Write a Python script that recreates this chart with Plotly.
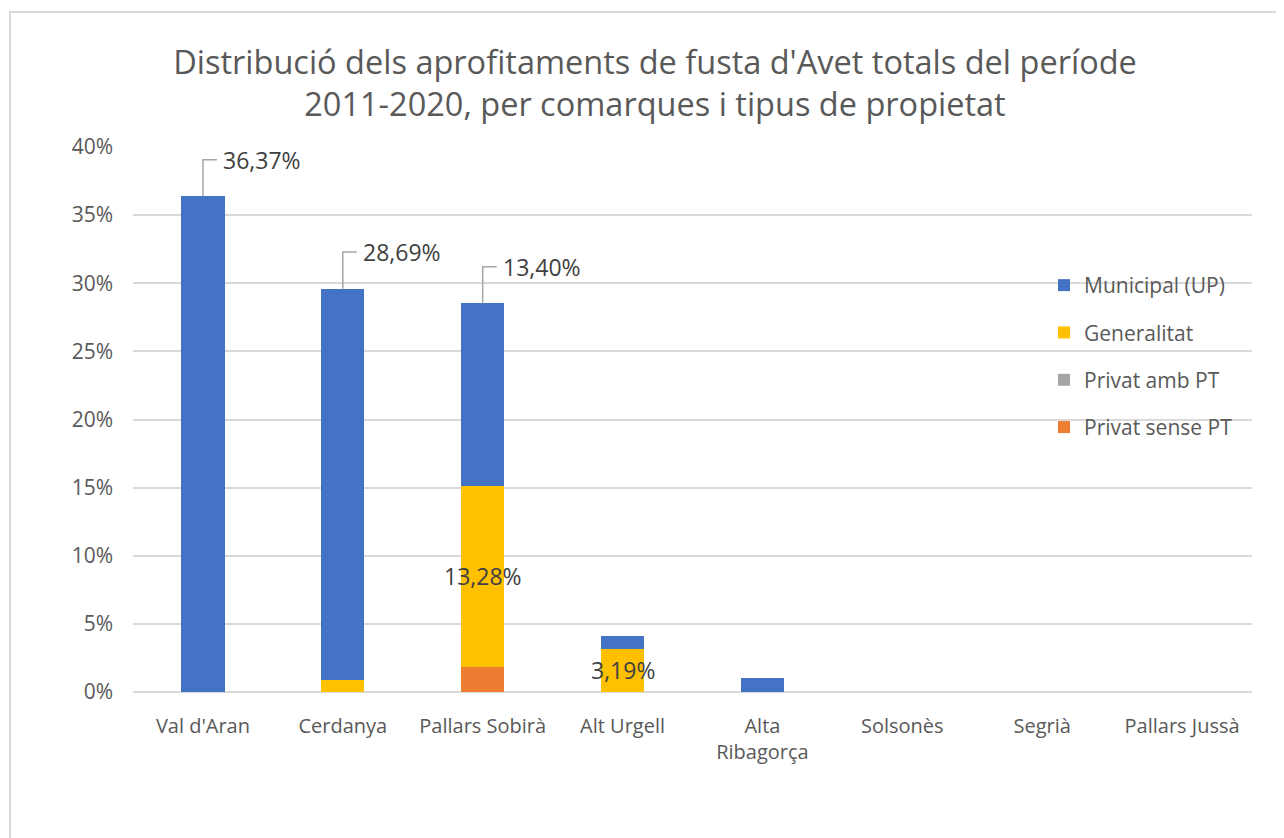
import plotly.graph_objects as go

categories = ["Val d'Aran", "Cerdanya", "Pallars Sobirà", "Alt Urgell",
              "Alta<br>Ribagorça", "Solsonès", "Segrià", "Pallars Jussà"]
municipal = [36.37, 28.69, 13.40, 0.95, 1.05, 0.0, 0.0, 0.0]
generalitat = [0.0, 0.90, 13.28, 3.19, 0.0, 0.0, 0.0, 0.0]
privat_amb_pt = [0.0, 0.0, 0.0, 0.0, 0.0, 0.0, 0.0, 0.0]
privat_sense_pt = [0.0, 0.0, 1.84, 0.0, 0.0, 0.0, 0.0, 0.0]

top_labels_idx = [0, 1, 2]       # Municipal labels shown with leader lines
mid_labels_idx = [2, 3]          # Generalitat labels shown inside bars

W, H = 1284, 838
OFF = 8  # page body offset
L, R, T, B = 133 - OFF, 32 + OFF, 147 - OFF, 146 + OFF
FONT = "Open Sans"
GREY = "#595959"

fig = go.Figure()
series = [
    ("Privat sense PT", privat_sense_pt, "#ED7D31", 4),
    ("Privat amb PT", privat_amb_pt, "#A5A5A5", 3),
    ("Generalitat", generalitat, "#FFC000", 2),
    ("Municipal (UP)", municipal, "#4472C4", 1),
]
for name, vals, col, rank in series:
    fig.add_trace(go.Bar(x=categories, y=vals, name=name, marker_color=col,
                         marker_line_width=0, legendgroup=name, legendrank=rank))

def fmt(v):
    return f"{v:.2f}".replace(".", ",") + "%"

annotations = []
shapes = []
off = 2.7
for i in top_labels_idx:
    total = privat_sense_pt[i] + privat_amb_pt[i] + generalitat[i] + municipal[i]
    ly = total + off
    shapes.append(dict(type="path", xref="x", yref="y",
                       path=f"M {i},{total} L {i},{ly} L {i + 0.1},{ly}",
                       line=dict(color="#A6A6A6", width=1.5)))
    annotations.append(dict(x=i + 0.13, y=ly, xref="x", yref="y", text=fmt(municipal[i]),
                            showarrow=False, xanchor="left", yanchor="middle",
                            font=dict(family=FONT, size=23, color="#404040")))
for i in mid_labels_idx:
    base = privat_sense_pt[i] + privat_amb_pt[i]
    annotations.append(dict(x=i, y=base + generalitat[i] / 2, xref="x", yref="y",
                            text=fmt(generalitat[i]), showarrow=False,
                            xanchor="center", yanchor="middle",
                            font=dict(family=FONT, size=23, color="#404040")))

pw, ph = W - L - R, H - T - B
fx0, fy0 = 10 - OFF, 12 - OFF  # border corner in figure pixels
shapes.append(dict(type="rect", xref="paper", yref="paper",
                   x0=(fx0 - L) / pw, x1=(W + 20 - L) / pw,
                   y0=(H - B - (H + 20)) / ph, y1=(H - B - fy0) / ph,
                   line=dict(color="#D9D9D9", width=2), layer="below"))

fig.update_layout(
    width=W, height=H,
    margin=dict(l=L, r=R, t=T, b=B),
    paper_bgcolor="white", plot_bgcolor="white",
    barmode="stack", bargap=0.69,
    title=dict(text="Distribució dels aprofitaments de fusta d'Avet totals del període<br>2011-2020, per comarques i tipus de propietat",
               x=(655 - OFF) / W, xanchor="center", xref="container",
               y=1 - 66 / H, yanchor="middle", yref="container",
               font=dict(family=FONT, size=32.5, color=GREY)),
    font=dict(family=FONT, color=GREY),
    showlegend=True,
    legend=dict(traceorder="grouped", x=(1044 - OFF - L) / pw, y=(H - B - (265 - OFF)) / ph,
                xanchor="left", yanchor="top", bgcolor="rgba(0,0,0,0)",
                font=dict(family=FONT, size=21, color=GREY), tracegroupgap=17,
                itemwidth=30),
    xaxis=dict(showgrid=False, showline=False, ticks="", tickfont=dict(family=FONT, size=20, color=GREY),
               ticklabelstandoff=20, range=[-0.5, 7.5]),
    yaxis=dict(range=[0, 40], dtick=5, ticksuffix="%", showgrid=True, gridcolor="#D9D9D9",
               gridwidth=1.5, zeroline=True, zerolinecolor="#D9D9D9", zerolinewidth=1.5,
               showline=False, tickfont=dict(family=FONT, size=21, color=GREY),
               ticklabelstandoff=19),
    annotations=annotations,
    shapes=shapes,
)

fig.write_html("out.html")
